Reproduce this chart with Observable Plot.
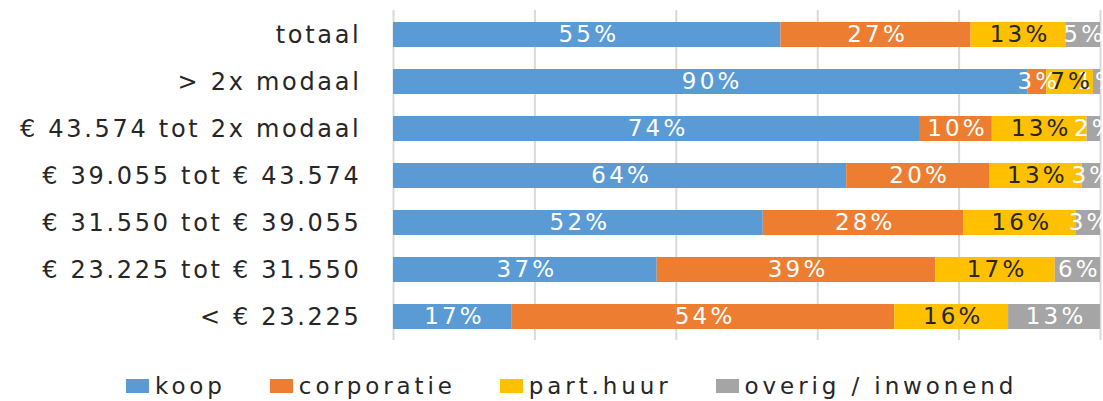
<!DOCTYPE html>
<html><head><meta charset="utf-8">
<script src="https://cdn.jsdelivr.net/npm/d3@7"></script>
<script src="https://cdn.jsdelivr.net/npm/@observablehq/plot@0.6"></script>
<style>
body{margin:0;background:#fff;font-family:"DejaVu Sans",sans-serif;}
#wrap{position:relative;width:1103px;height:401px;overflow:hidden;background:#fff}
#chart svg text{letter-spacing:3.2px}
#chart svg g[aria-label^="y-axis"] text{letter-spacing:2.7px}
#legend{position:absolute;top:374px;left:126px;display:flex;align-items:center;font-size:23px;letter-spacing:3.9px;color:#262626;line-height:24px;white-space:nowrap}
.sw{width:23px;height:14px;margin-right:6px;flex:none}
.item{display:flex;align-items:center;margin-right:44px}
</style></head><body><div id="wrap"><div id="chart"></div><div id="legend"></div></div>
<script>
const categories = ["totaal", "> 2x modaal", "€ 43.574 tot 2x modaal", "€ 39.055 tot € 43.574", "€ 31.550 tot € 39.055", "€ 23.225 tot € 31.550", "< € 23.225"];
const series = ["koop", "corporatie", "part.huur", "overig / inwonend"];
const colors = ["#5b9bd5", "#ed7d31", "#ffc000", "#a5a5a5"];
const koop = [54.8, 89.7, 74.4, 64.1, 52.3, 37.3, 16.8];
const corporatie = [26.9, 2.7, 10.3, 20.2, 28.4, 39.4, 54.1];
const partHuur = [13.4, 6.6, 13.4, 13.1, 15.9, 16.9, 16.1];
const overig = [4.9, 1.0, 1.9, 2.6, 3.4, 6.4, 13.0];
const xTicks = [0, 20, 40, 60, 80, 100];

const seriesValues = [koop, corporatie, partHuur, overig];
const data = [];
series.forEach((s, i) => categories.forEach((c, j) => data.push({cat: c, series: s, value: seriesValues[i][j]})));
const label = d => Math.round(d.value) + "%";

const chart = Plot.plot({
  width: 1103, height: 350,
  marginLeft: 393, marginRight: 3, marginTop: 10, marginBottom: 10,
  x: {domain: [0, 100], axis: null},
  y: {domain: categories, padding: 0, tickSize: 0, tickPadding: 32, label: null},
  color: {domain: series, range: colors},
  style: {fontFamily: "DejaVu Sans", fontSize: "24px", background: "white", color: "#262626", overflow: "visible"},
  marks: [
    Plot.ruleX(xTicks, {x: d => d, stroke: "#d9d9d9", strokeWidth: 2}),
    Plot.barX(data, Plot.stackX({x: "value", y: "cat", fill: "series", order: series, insetTop: 11, insetBottom: 11})),
    Plot.text(data, Plot.stackX({x: "value", y: "cat", z: "series", order: series,
      text: d => d.series === "part.huur" ? null : label(d), fill: "white", fontSize: 23, dx: 1.6})),
    Plot.text(data, Plot.stackX({x: "value", y: "cat", z: "series", order: series,
      text: d => d.series === "part.huur" ? label(d) : null, fill: "#262626", fontSize: 23, dx: 1.6}))
  ]
});
document.getElementById("chart").appendChild(chart);

const legend = document.getElementById("legend");
series.forEach((s, i) => {
  const item = document.createElement("div");
  item.className = "item";
  const sw = document.createElement("div");
  sw.className = "sw";
  sw.style.background = colors[i];
  const t = document.createElement("span");
  t.textContent = s;
  item.appendChild(sw); item.appendChild(t);
  legend.appendChild(item);
});
</script>
</body></html>
